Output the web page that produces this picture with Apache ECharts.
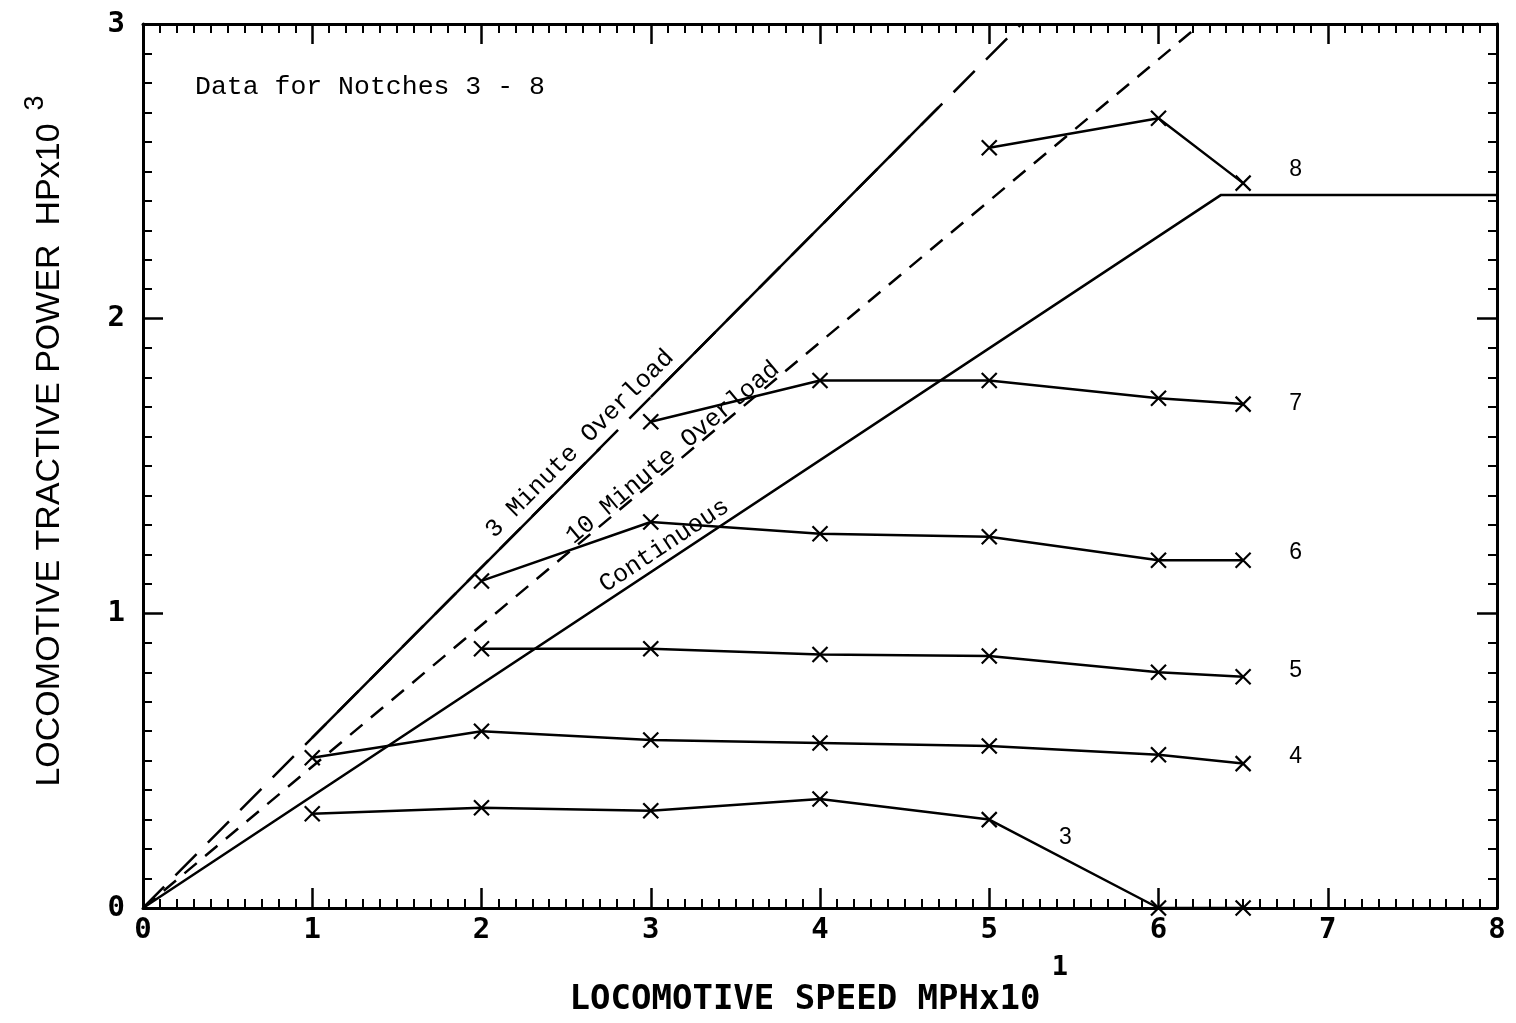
<!DOCTYPE html>
<html>
<head>
<meta charset="utf-8">
<script src="https://cdn.jsdelivr.net/npm/echarts@6/dist/echarts.min.js"></script>
<style>
  html, body { margin: 0; padding: 0; background: #fff; }
  #chart { width: 1516px; height: 1023px; }
</style>
</head>
<body>
<div id="chart"></div>
<script>
// speed in MPH x 10, power in HP x 1000
const speed = [1, 2, 3, 4, 5, 6, 6.5]
const notch3 = [0.32, 0.34, 0.33, 0.37, 0.30, 0, 0]
const notch4 = [0.51, 0.60, 0.57, 0.56, 0.55, 0.52, 0.49]
const notch5 = [null, 0.88, 0.88, 0.86, 0.855, 0.80, 0.785]
const notch6 = [null, 1.11, 1.31, 1.27, 1.26, 1.18, 1.18]
const notch7 = [null, null, 1.65, 1.79, 1.79, 1.73, 1.71]
const notch8 = [null, null, null, null, 2.58, 2.68, 2.46]

// rating limit lines
const contX = [0, 6.37, 8]
const contY = [0, 2.42, 2.42]
const tenMinX = [0, 6.25]
const tenMinY = [0, 3]
const threeMinX = [0, 5.19]
const threeMinY = [0, 3]
// solid parts drawn over the 3 minute dashed line
const threeMinSolidX = [[1, 2.7], [3.0, 4.7]]
const threeMinSolidY = [[0.578, 1.56], [1.734, 2.717]]

// text notes: x, y, text, rotation (deg)
const notchLabels = [
    [6.81, 2.505, '8', 0], [6.81, 1.71, '7', 0], [6.81, 1.205, '6', 0],
    [6.81, 0.804, '5', 0], [6.81, 0.512, '4', 0], [5.45, 0.238, '3', 0]
]
const lineNotes = [
    [2.58, 1.575, '3 Minute Overload', 45],
    [3.13, 1.545, '10 Minute Overload', 40],
    [3.08, 1.23, 'Continuous', 33.5]
]

const pairs = (xs, ys) => xs.map((x, i) => [x, ys[i]]).filter(p => p[1] !== null)

let myChart = echarts.init(document.getElementById('chart'))

const crossSymbol = 'path://M0,0L10,10M10,0L0,10'

function notchSeries(vals) {
    return {
        type: 'line',
        data: pairs(speed, vals),
        symbol: crossSymbol,
        symbolSize: 15,
        itemStyle: { color: 'none', borderColor: '#000', borderWidth: 2.2 },
        lineStyle: { color: '#000', width: 2.5 },
        silent: true,
        z: 5
    }
}

function limitSeries(xs, ys, type) {
    return {
        type: 'line',
        data: pairs(xs, ys),
        symbol: 'none',
        lineStyle: { color: '#000', width: 2.5, type: type },
        silent: true
    }
}

// text placed in data coordinates
function textSeries(rows, font) {
    return {
        type: 'custom',
        silent: true,
        data: rows,
        renderItem: function (params, api) {
            let pt = api.coord([api.value(0), api.value(1)])
            let row = rows[params.dataIndex]
            return {
                type: 'text',
                x: pt[0],
                y: pt[1],
                rotation: row[3] * Math.PI / 180,
                style: {
                    text: row[2],
                    fill: '#000',
                    font: font,
                    align: 'center',
                    verticalAlign: 'middle'
                }
            }
        }
    }
}

function axisCommon(showLabel) {
    return {
        type: 'value',
        interval: 1,
        axisLine: { show: true, onZero: false, lineStyle: { color: '#000', width: 3 } },
        axisTick: { show: true, inside: true, length: 20, lineStyle: { color: '#000', width: 2.5 } },
        minorTick: { show: true, splitNumber: 10, length: 9, lineStyle: { color: '#000', width: 2 } },
        splitLine: { show: false },
        minorSplitLine: { show: false },
        axisLabel: {
            show: showLabel,
            color: '#000',
            fontFamily: 'DejaVu Sans Mono',
            fontWeight: 'bold',
            fontSize: 29
        }
    }
}

let series = [
    limitSeries(contX, contY, 'solid'),
    limitSeries(tenMinX, tenMinY, [16, 11]),
    limitSeries(threeMinX, threeMinY, [30, 16])
]
threeMinSolidX.forEach((xs, i) => series.push(limitSeries(xs, threeMinSolidY[i], 'solid')))
;[notch3, notch4, notch5, notch6, notch7, notch8].forEach(v => series.push(notchSeries(v)))
series.push(textSeries(notchLabels, '23px "Liberation Sans"'))
series.push(textSeries(lineNotes, '25px "Liberation Mono"'))

let option = {
    backgroundColor: '#fff',
    animation: false,
    grid: { left: 143, right: 19, top: 24, bottom: 115 },
    xAxis: [
        Object.assign(axisCommon(true), { min: 0, max: 8, position: 'bottom' }),
        Object.assign(axisCommon(false), { min: 0, max: 8, position: 'top' })
    ],
    yAxis: [
        Object.assign(axisCommon(true), { min: 0, max: 3, position: 'left' }),
        Object.assign(axisCommon(false), { min: 0, max: 3, position: 'right' })
    ],
    graphic: [
        {
            type: 'text', left: 195, top: 73,
            style: { text: 'Data for Notches 3 - 8', fill: '#000', font: '26.5px "Liberation Mono"' }
        },
        {
            type: 'text', x: 50, y: 455, rotation: Math.PI / 2,
            style: {
                text: 'LOCOMOTIVE TRACTIVE POWER  HPx10', fill: '#000',
                font: '34px "Liberation Sans"', align: 'center', verticalAlign: 'middle'
            }
        },
        {
            type: 'text', x: 36, y: 103, rotation: Math.PI / 2,
            style: {
                text: '3', fill: '#000',
                font: '27px "Liberation Sans"', align: 'center', verticalAlign: 'middle'
            }
        },
        {
            type: 'text', x: 805, y: 1000,
            style: {
                text: 'LOCOMOTIVE SPEED MPHx10', fill: '#000',
                font: 'bold 34px "DejaVu Sans Mono"', align: 'center', verticalAlign: 'middle'
            }
        },
        {
            type: 'text', x: 1060, y: 968,
            style: {
                text: '1', fill: '#000',
                font: 'bold 27px "DejaVu Sans Mono"', align: 'center', verticalAlign: 'middle'
            }
        }
    ],
    series: series
}
option.yAxis[0].axisLabel.margin = 18
option.xAxis[0].axisLabel.margin = 8
myChart.setOption(option)
</script>
</body>
</html>
